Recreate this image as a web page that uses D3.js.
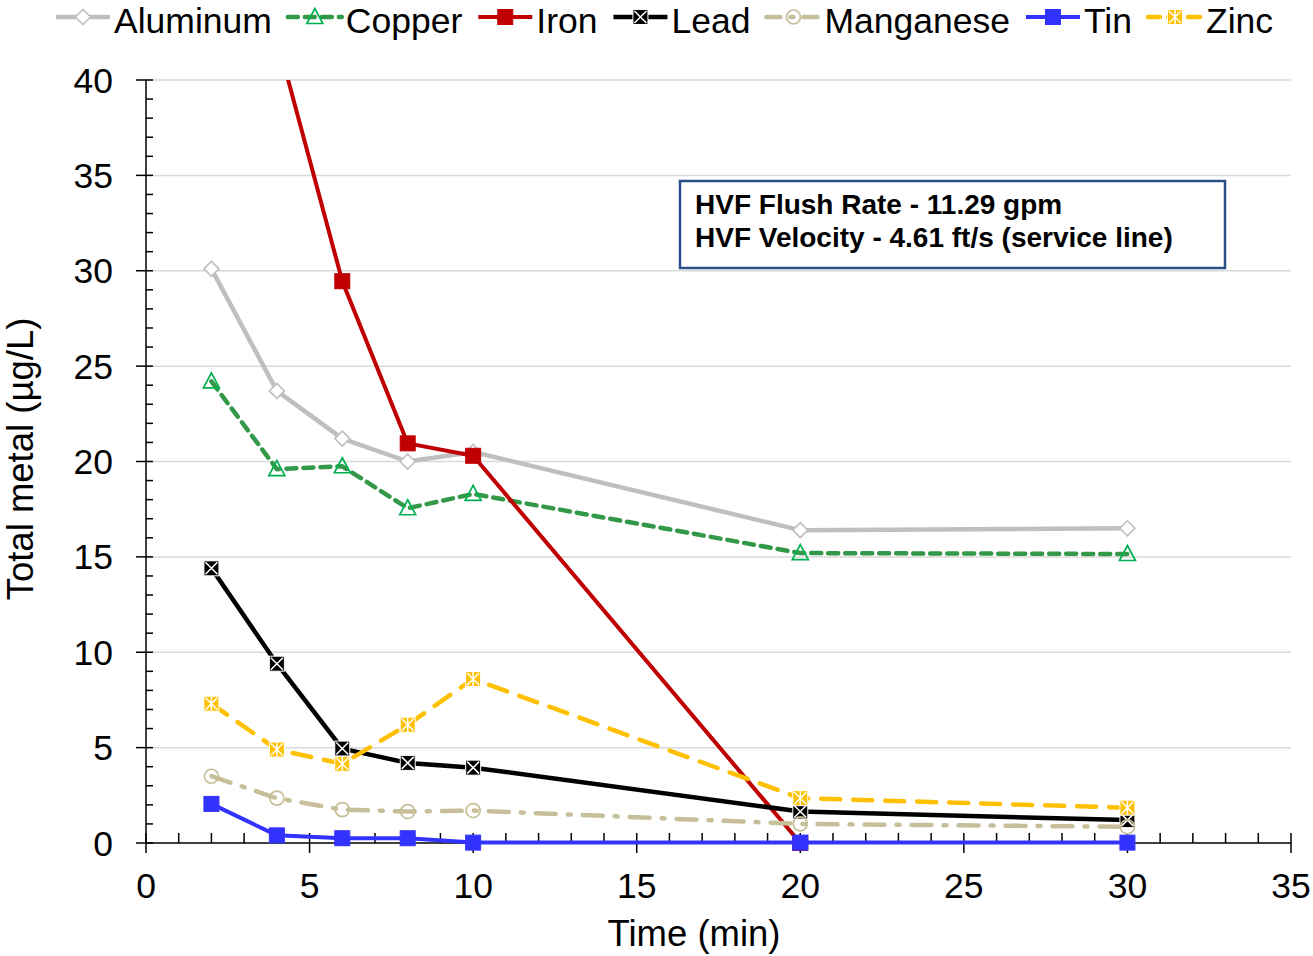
<!DOCTYPE html>
<html><head><meta charset="utf-8">
<script src="https://cdn.jsdelivr.net/npm/d3@7"></script>
<style>body{margin:0;background:#fff}svg{display:block;font-family:"Liberation Sans",Arial,sans-serif}</style>
</head><body><svg id="c" width="1313" height="956"></svg>
<script>
const times = [2, 4, 6, 8, 10, 20, 30];
const aluminum  = [30.1, 23.7, 21.2, 20.0, 20.5, 16.4, 16.5];
const copper    = [24.2, 19.6, 19.75, 17.55, 18.3, 15.2, 15.15];
const iron      = [null, 42.2, 29.45, 20.95, 20.3, 0, null];
const lead      = [14.4, 9.4, 4.95, 4.2, 3.95, 1.65, 1.2];
const manganese = [3.5, 2.35, 1.75, 1.65, 1.7, 1.0, 0.85];
const tin       = [2.05, 0.4, 0.25, 0.25, 0.02, 0.02, 0.02];
const zinc      = [7.3, 4.9, 4.15, 6.2, 8.6, 2.35, 1.85];
const seriesNames = ["Aluminum","Copper","Iron","Lead","Manganese","Tin","Zinc"];
const xTicks = [0,5,10,15,20,25,30,35];
const yTicks = [0,5,10,15,20,25,30,35,40];
const annotation = ["HVF Flush Rate - 11.29 gpm","HVF Velocity - 4.61 ft/s (service line)"];

const seriesValues = [aluminum, copper, iron, lead, manganese, tin, zinc];
const styles = {
  Aluminum:{color:"#BFBFBF", width:4.5, dash:null, marker:"diamond", mfill:"#fff", mstroke:"#BFBFBF"},
  Copper:{color:"#339949", width:4.5, dash:"10,7", marker:"triangle", mfill:"none", mstroke:"#00B050"},
  Iron:{color:"#C00000", width:4, dash:null, marker:"square", mfill:"#C00000", mstroke:"#C00000"},
  Lead:{color:"#000000", width:4.5, dash:null, marker:"xsquare", mfill:"#000", mstroke:"#fff"},
  Manganese:{color:"#C7BF99", width:4.5, dash:"20,12,3,12", marker:"circle", mfill:"none", mstroke:"#C7BF99"},
  Tin:{color:"#3333FF", width:4, dash:null, marker:"square", mfill:"#3333FF", mstroke:"#3333FF"},
  Zinc:{color:"#FFC000", width:4.5, dash:"19,13", marker:"star", mfill:"#FFC000", mstroke:"#fff"}
};

const svg = d3.select("#c");
const x = d3.scaleLinear().domain([0,35]).range([146,1291]);
const y = d3.scaleLinear().domain([0,40]).range([843,80]);

// gridlines
svg.append("g").selectAll("line").data(yTicks.filter(d=>d>0)).join("line")
  .attr("x1",x(0)).attr("x2",x(35)).attr("y1",d=>y(d)).attr("y2",d=>y(d))
  .attr("stroke","#D9D9D9").attr("stroke-width",1.5);

// y axis
const yAxis = svg.append("g");
yAxis.append("line").attr("x1",x(0)).attr("x2",x(0)).attr("y1",y(0)).attr("y2",y(40)).attr("stroke","#000").attr("stroke-width",1.5);
yAxis.selectAll(".mn").data(d3.range(0,41)).join("line")
  .attr("x1",d=>d%5===0?136:146).attr("x2",153).attr("y1",d=>y(d)).attr("y2",d=>y(d))
  .attr("stroke","#000").attr("stroke-width",1.5);
yAxis.selectAll("text").data(yTicks).join("text")
  .attr("x",113).attr("y",d=>y(d)+12.5).attr("text-anchor","end")
  .attr("font-size",35.5).text(d=>d);

// x axis
const xAxis = svg.append("g");
xAxis.append("line").attr("x1",x(0)).attr("x2",x(35)).attr("y1",y(0)).attr("y2",y(0)).attr("stroke","#000").attr("stroke-width",1.5);
xAxis.selectAll(".mn").data(d3.range(0,36)).join("line")
  .attr("x1",d=>x(d)).attr("x2",d=>x(d)).attr("y1",833).attr("y2",d=>d%5===0?853:843)
  .attr("stroke","#000").attr("stroke-width",1.5);
xAxis.selectAll("text").data(xTicks).join("text")
  .attr("x",d=>x(d)).attr("y",898).attr("text-anchor","middle")
  .attr("font-size",35.5).text(d=>d);

// titles
svg.append("text").attr("x",694).attr("y",946).attr("text-anchor","middle").attr("font-size",36.5).text("Time (min)");
svg.append("text").attr("transform","translate(33,459) rotate(-90)").attr("text-anchor","middle").attr("font-size",36.5).text("Total metal (µg/L)");

// clip
svg.append("clipPath").attr("id","clip").append("rect").attr("x",100).attr("y",y(40)).attr("width",1250).attr("height",820);

function drawMarker(g, type, st, cx, cy) {
  const s = 7.5;
  if (type==="diamond") {
    g.append("path").attr("d",`M${cx},${cy-7.5}L${cx+7.5},${cy}L${cx},${cy+7.5}L${cx-7.5},${cy}Z`)
      .attr("fill",st.mfill).attr("stroke",st.mstroke).attr("stroke-width",1.6);
  } else if (type==="triangle") {
    g.append("path").attr("d",`M${cx},${cy-8.5}L${cx+8},${cy+6.5}L${cx-8},${cy+6.5}Z`)
      .attr("fill","#fff").attr("fill-opacity",0).attr("stroke",st.mstroke).attr("stroke-width",1.7);
  } else if (type==="square") {
    g.append("rect").attr("x",cx-s).attr("y",cy-s).attr("width",2*s).attr("height",2*s)
      .attr("fill",st.mfill).attr("stroke",st.mstroke).attr("stroke-width",1);
  } else if (type==="xsquare") {
    g.append("rect").attr("x",cx-s).attr("y",cy-s).attr("width",2*s).attr("height",2*s)
      .attr("fill",st.mfill).attr("stroke","#fff").attr("stroke-width",1);
    g.append("path").attr("d",`M${cx-6},${cy-6}L${cx+6},${cy+6}M${cx+6},${cy-6}L${cx-6},${cy+6}`)
      .attr("stroke","#fff").attr("stroke-width",1.5);
  } else if (type==="star") {
    g.append("rect").attr("x",cx-s).attr("y",cy-s).attr("width",2*s).attr("height",2*s)
      .attr("fill",st.mfill).attr("stroke","#fff").attr("stroke-width",1);
    g.append("path").attr("d",`M${cx-6},${cy-6}L${cx+6},${cy+6}M${cx+6},${cy-6}L${cx-6},${cy+6}M${cx},${cy-7}L${cx},${cy+7}`)
      .attr("stroke","#fff").attr("stroke-width",1.5);
  } else if (type==="circle") {
    g.append("circle").attr("cx",cx).attr("cy",cy).attr("r",7)
      .attr("fill","none").attr("stroke",st.mstroke).attr("stroke-width",1.7);
  }
}

const line = d3.line().defined(d=>d.v!=null).x(d=>x(d.t)).y(d=>y(d.v));
seriesNames.forEach((name,i)=>{
  const st = styles[name];
  const pts = times.map((t,j)=>({t, v: seriesValues[i][j]}));
  const g = svg.append("g");
  g.append("path").datum(pts).attr("d",line).attr("clip-path","url(#clip)")
    .attr("fill","none").attr("stroke",st.color).attr("stroke-width",st.width)
    .attr("stroke-dasharray",st.dash).attr("stroke-linejoin","round")
    .attr("stroke-linecap", st.dash ? "round" : "butt");
  pts.forEach(p=>{ if (p.v!=null && p.v<=40) drawMarker(g, st.marker, st, x(p.t), y(p.v)); });
});

// annotation box
const ann = svg.append("g");
ann.append("rect").attr("x",680).attr("y",181).attr("width",545).attr("height",87)
  .attr("fill","#fff").attr("stroke","#2B4F86").attr("stroke-width",2.5);
annotation.forEach((t,i)=>{
  ann.append("text").attr("x",695).attr("y",214+i*33).attr("font-size",28).attr("font-weight","bold").text(t);
});

// legend
const leg = svg.append("g");
let lx = 56;
seriesNames.forEach(name=>{
  const st = styles[name];
  const g = leg.append("g");
  g.append("line").attr("x1",lx).attr("x2",lx+54).attr("y1",17).attr("y2",17)
    .attr("stroke",st.color).attr("stroke-width",st.width)
    .attr("stroke-dasharray", name==="Copper"?"10,7":name==="Zinc"?"12,8":name==="Manganese"?"14,10,3,10":null)
    .attr("stroke-linecap", st.dash?"round":"butt");
  drawMarker(g, st.marker, st, lx+27, 17);
  const t = g.append("text").attr("x",lx+58).attr("y",32.5).attr("font-size",35.5).text(name);
  lx += 58 + t.node().getComputedTextLength() + 16;
});
</script></body></html>
